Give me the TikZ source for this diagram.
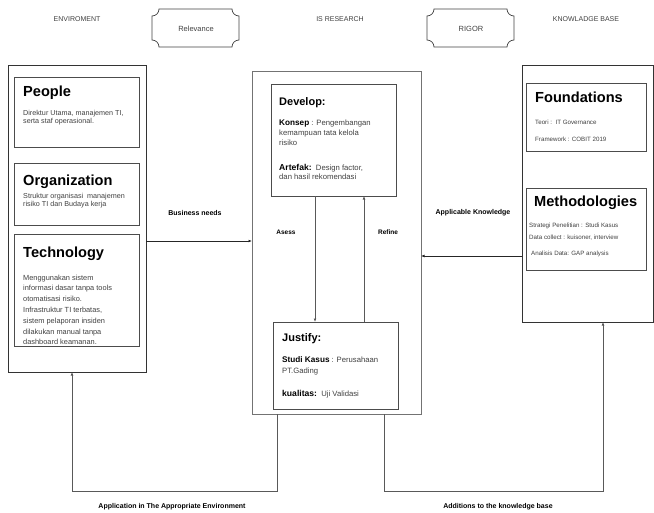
\documentclass[tikz,border=0pt]{standalone}
\usepackage{fontspec}
\setmainfont{Liberation Sans}
\usetikzlibrary{arrows.meta}
\newcommand\plaquepath[4]{%
  \draw[plq] (#1+7,#2) -- (#3-7,#2) .. controls (#3-7,#2+3.9) and (#3-3.9,#2+7) .. (#3,#2+7)
    -- (#3,#4-7) .. controls (#3-3.9,#4-7) and (#3-7,#4-3.9) .. (#3-7,#4)
    -- (#1+7,#4) .. controls (#1+7,#4-3.9) and (#1+3.9,#4-7) .. (#1,#4-7)
    -- (#1,#2+7) .. controls (#1+3.9,#2+7) and (#1+7,#2+3.9) .. cycle;}
\begin{document}
\begin{tikzpicture}[x=1pt,y=-1pt,
  outerbox/.style={draw=black!80, line width=0.8pt, anchor=north west, inner sep=0pt, outer sep=0pt},
  midbox/.style={draw=black!55, line width=0.8pt, anchor=north west, inner sep=0pt, outer sep=0pt},
  innerbox/.style={draw=black!70, line width=0.8pt, anchor=north west, inner sep=0pt, outer sep=0pt},
  plq/.style={draw=black!75, line width=0.7pt},
  arr/.style={draw=black!65, line width=0.7pt, -{Latex[length=3.5pt,width=2.8pt]}},
  ln/.style={draw=black!65, line width=0.7pt},
  hdr/.style={font=\fontsize{7}{8}\selectfont, text=black!75, inner sep=0pt},
  lbl/.style={font=\fontsize{7}{8}\selectfont\bfseries, inner sep=0pt},
  bigtitle/.style={font=\fontsize{14.6}{16}\selectfont\bfseries, anchor=base west, inner sep=0pt},
  midtitle/.style={font=\fontsize{11}{13}\selectfont\bfseries, anchor=base west, inner sep=0pt},
  txt/.style={anchor=north west, inner sep=0pt, align=left, text=black!75},
  rtxt/.style={font=\fontsize{6.2}{7}\selectfont, anchor=base west, inner sep=0pt, text=black!75}
]
\useasboundingbox (0,0) rectangle (654,512);

% header
\node[hdr] (henv) at (77,19) {ENVIROMENT};
\node[hdr] (hisr) at (340,19) {IS RESEARCH};
\node[hdr] (hkb) at (586,19) {KNOWLADGE BASE};
\plaquepath{152}{9}{239}{47}
\node[hdr, font=\fontsize{7.5}{8}\selectfont] (rel) at (196,29) {Relevance};
\plaquepath{427}{9}{514}{47}
\node[hdr, font=\fontsize{7.5}{8}\selectfont] (rig) at (471,29) {RIGOR};

% environment
\node[outerbox, minimum width=138pt, minimum height=307pt] (env) at (8,65) {};
\node[innerbox, minimum width=125pt, minimum height=70pt] (peo) at (14,77) {};
\node[bigtitle] (peot) at (23,96) {People};
\node[txt, font=\fontsize{7.2}{7.6}\selectfont] (peob) at (23,110) {Direktur Utama, manajemen TI,\\serta staf operasional.};
\node[innerbox, minimum width=125pt, minimum height=62pt] (org) at (14,163) {};
\node[bigtitle] (orgt) at (23,185) {Organization};
\node[txt, font=\fontsize{7.2}{7.6}\selectfont] (orgb) at (23,193.5) {Struktur organisasi\ \ manajemen\\risiko TI dan Budaya kerja};
\node[innerbox, minimum width=125pt, minimum height=112pt] (tec) at (14,234) {};
\node[bigtitle] (tect) at (23,257) {Technology};
\node[txt, font=\fontsize{7.4}{10.8}\selectfont] (tecb) at (23,274.5) {Menggunakan sistem\\informasi dasar tanpa tools\\otomatisasi risiko.\\Infrastruktur TI terbatas,\\sistem pelaporan insiden\\dilakukan manual tanpa\\dashboard keamanan.};
\draw[ln, draw=black!70, line width=0.8pt] (tec.south west) -- (tec.south east);

% IS research
\node[midbox, minimum width=169pt, minimum height=343pt] (isr) at (252,71) {};
\node[innerbox, minimum width=125pt, minimum height=112pt] (dev) at (271,84) {};
\node[midtitle] (devt) at (279,105) {Develop:};
\node[txt, font=\fontsize{7.7}{10}\selectfont] (devk) at (279,119.5) {{\fontsize{8.2}{10}\selectfont\bfseries\color{black} Konsep} : Pengembangan\\kemampuan tata kelola\\risiko};
\node[txt, font=\fontsize{7.7}{9.5}\selectfont] (deva) at (279,164) {{\fontsize{8.6}{10}\selectfont\bfseries\color{black} Artefak:}\ \ Design factor,\\dan hasil rekomendasi};
\node[innerbox, minimum width=125pt, minimum height=87pt] (jus) at (273,322) {};
\node[midtitle] (just) at (282,341) {Justify:};
\node[txt, font=\fontsize{7.7}{10.5}\selectfont] (juss) at (282,356.5) {{\fontsize{8.2}{10}\selectfont\bfseries\color{black} Studi Kasus} : Perusahaan\\PT.Gading};
\node[txt, font=\fontsize{7.7}{10}\selectfont] (jusk) at (282,390) {{\fontsize{8.6}{10}\selectfont\bfseries\color{black} kualitas:}\ \ Uji Validasi};

\coordinate (ax) at (315,0);
\coordinate (rx) at (364,0);
\draw[arr] (dev.south -| ax) -- (jus.north -| ax);
\draw[arr] (jus.north -| rx) -- (dev.south -| rx);
\node[lbl, font=\fontsize{6.5}{8}\selectfont\bfseries] (asl) at (286,232) {Asess};
\node[lbl, font=\fontsize{6.5}{8}\selectfont\bfseries] (rfl) at (388,232) {Refine};

% knowledge base
\node[outerbox, minimum width=131pt, minimum height=257pt] (kb) at (522,65) {};
\node[innerbox, minimum width=120pt, minimum height=68pt] (fnd) at (526,83) {};
\node[bigtitle] (fndt) at (535,102) {Foundations};
\node[rtxt] (fnd1) at (535,124.5) {Teori :\ \ IT Governance};
\node[rtxt] (fnd2) at (535,141) {Framework : COBIT 2019};
\node[innerbox, minimum width=120pt, minimum height=82pt] (met) at (526,188) {};
\node[bigtitle] (mett) at (534,206) {Methodologies};
\node[rtxt] (met1) at (529,227.5) {Strategi Penelitian : Studi Kasus};
\node[rtxt] (met2) at (529,239.5) {Data collect : kuisoner, interview};
\node[rtxt] (met3) at (531,255.5) {Analisis Data: GAP analysis};

% connectors
\coordinate (bnY) at (0,241);
\draw[arr, draw=black!85] (env.east |- bnY) -- (isr.west |- bnY);
\node[lbl] (bnl) at (195,213) {Business needs};
\coordinate (akY) at (0,256);
\draw[arr, draw=black!85] (kb.west |- akY) -- (isr.east |- akY);
\node[lbl] (akl) at (473,213) {Applicable Knowledge};

\coordinate (p1) at (277,491);
\coordinate (p2) at (72,491);
\draw[arr] (isr.south -| p1) -- (p1) -- (p2) -- (env.south -| p2);
\coordinate (q1) at (384,491);
\coordinate (q2) at (603,491);
\draw[arr] (isr.south -| q1) -- (q1) -- (q2) -- (kb.south -| q2);
\node[lbl] (apl) at (172,507) {Application in The Appropriate Environment};
\node[lbl] (adl) at (498,507) {Additions to the knowledge base};
\end{tikzpicture}
\end{document}
